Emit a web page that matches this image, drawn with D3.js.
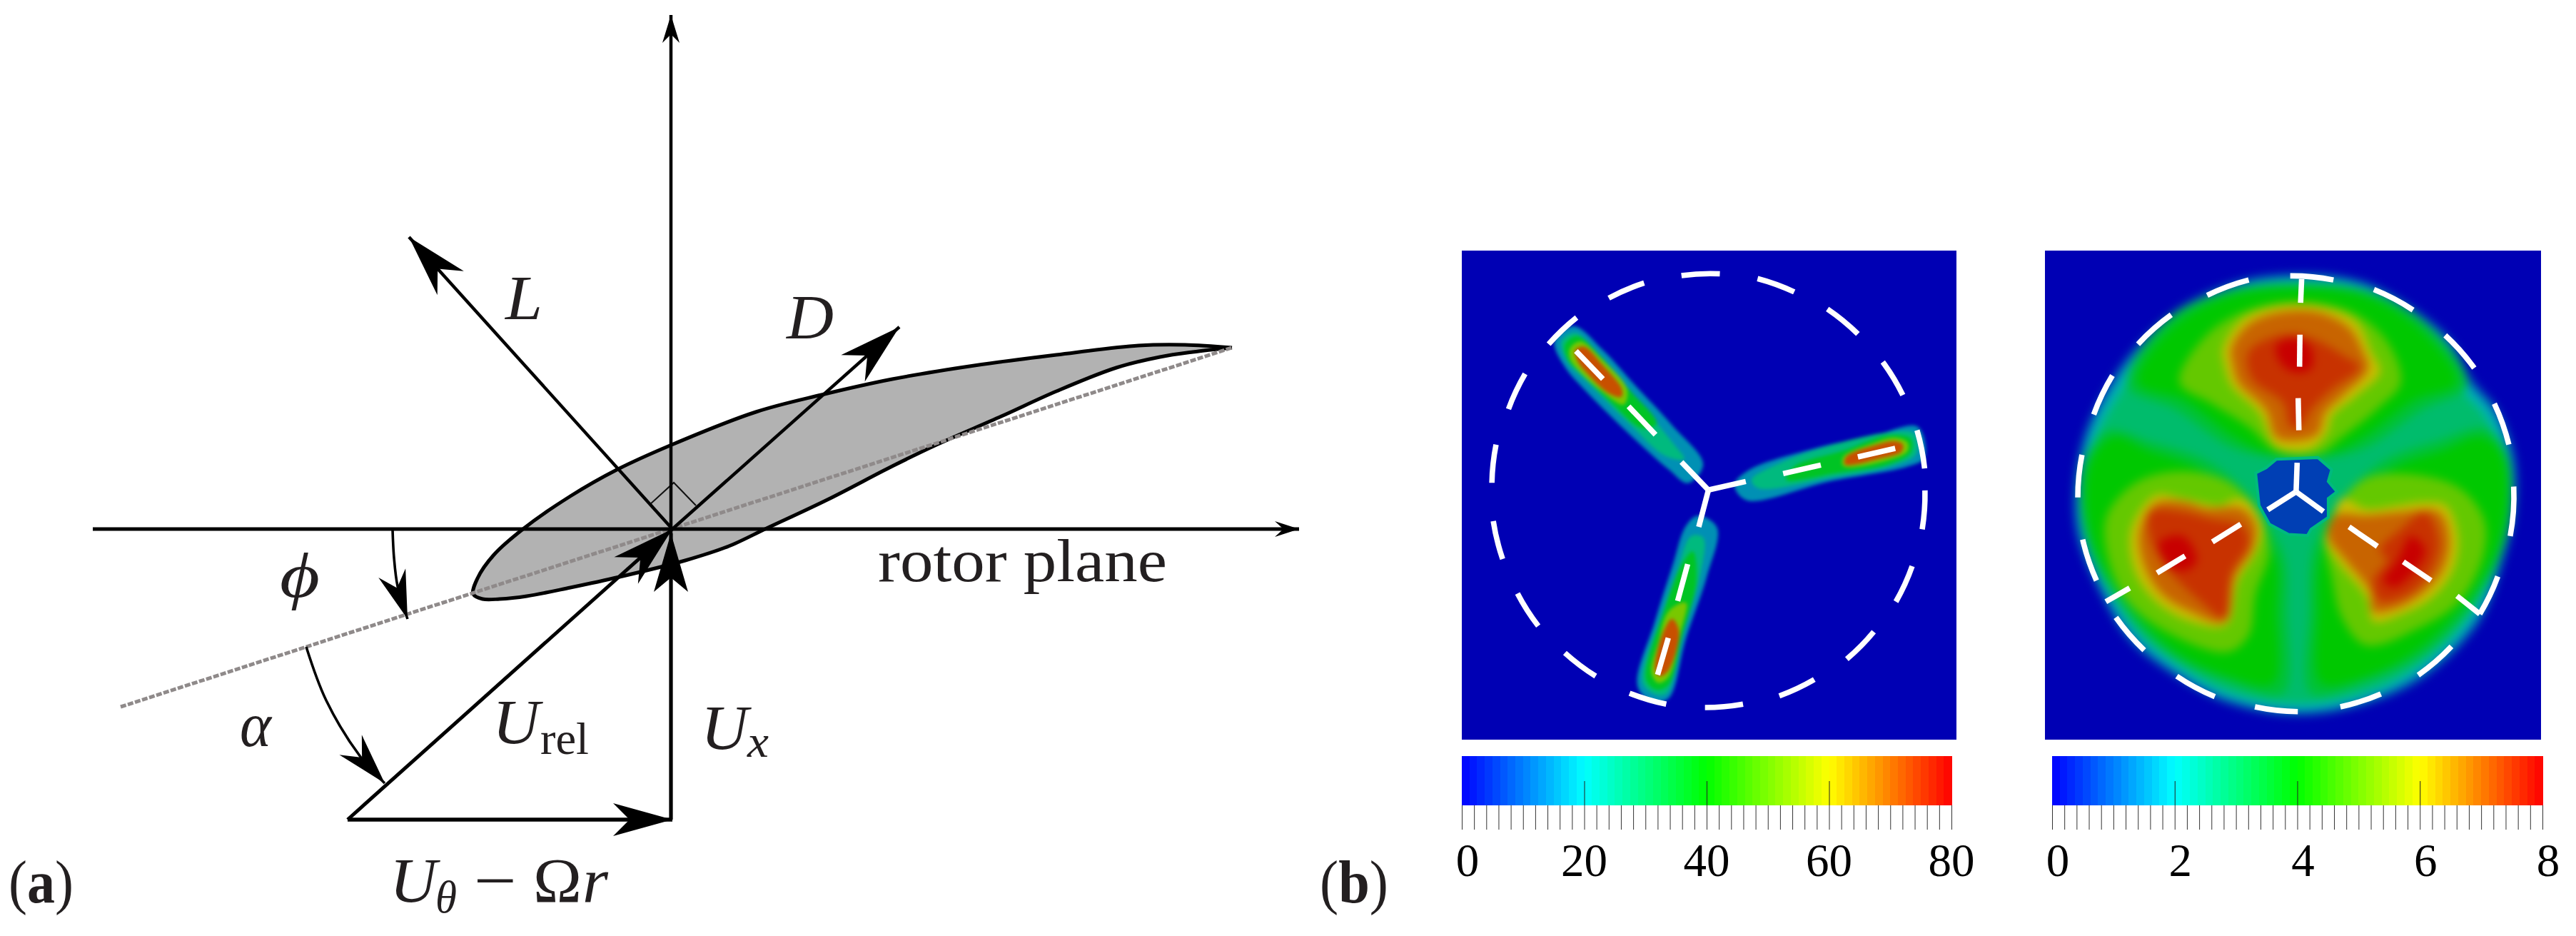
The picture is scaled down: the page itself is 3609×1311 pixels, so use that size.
<!DOCTYPE html>
<html>
<head>
<meta charset="utf-8">
<script src="https://cdn.jsdelivr.net/npm/d3@7"></script>
<style>
  html, body { margin: 0; padding: 0; background: #fff; overflow: hidden; }
  text { font-family: "Liberation Serif", serif; fill: #231f20; }
</style>
</head>
<body>
<div id="chart"></div>
<script>
// ---- panel (a): geometry in diagram units, origin at the blade section, y up
var airfoil = [[784,254],[718,258],[653,257],[538,244],[423,229],[308,210],[209,188],[117,164],[-1,118],[-78,83],
  [-143,46],[-208,1],[-250,-36],[-273,-69],[-279,-91],[-266,-98],[-242,-98],[-204,-94],[-143,-82],[-74,-67],
  [18,-44],[79,-24],[132,1],[217,41],[308,88],[370,118],[461,158],[538,193],[622,226],[683,241],[729,248],[784,254]];
var chordLine = [[-773,-249],[784,254]];
var rightAngle = [[-32,34],[2,65],[33,33]];
var planeAxis = [[-812,0],[878,0]];
var normalAxis = [[-2,-407],[-2,720]];
var liftVector = [[0,0],[-369,409]];
var dragVector = [[0,0],[318,283]];
var relVector = [[-455,-407],[0,0]];
var axialVector = [[-2,-407],[-2,-6]];
var tangentialVector = [[-455,-407],[0,-407]];
var phiArc = [[-392,-1],[-390,-40],[-385,-80],[-371,-126]];
var phiArcHeadFrom = [-393,-61];
var alphaArc = [[-513,-165],[-485,-240],[-437,-319],[-403,-356]];
var alphaArcHeadFrom = [-451,-302];

// ---- panel (b): everything below is in plot units
var leftLevels = [16, 26, 36, 52, 72];
var bladeA = [
  [[305,310],[360,265],[445,335],[535,435],[645,555],[735,670],[690,725],[635,685],[525,585],[395,455],[335,385]],
  [[325,310],[365,285],[435,350],[525,455],[645,605],[680,655],[625,645],[515,545],[395,425],[345,375]],
  [[335,320],[370,295],[435,350],[515,445],[600,550],[560,565],[465,485],[385,405],[345,365]],
  [[350,330],[380,310],[445,365],[515,450],[505,495],[440,455],[375,395],[350,360]],
  [[365,335],[390,325],[445,380],[500,450],[498,472],[462,462],[405,410],[370,365]]];
var bladeB = [
  [[1355,560],[1375,650],[1330,675],[1100,720],[860,775],[825,730],[870,685],[1050,625],[1230,585]],
  [[1345,580],[1350,640],[1280,675],[1100,710],[895,740],[875,715],[960,665],[1100,615],[1280,575]],
  [[1335,595],[1335,635],[1270,670],[1120,695],[975,715],[1000,675],[1140,630],[1270,585]],
  [[1325,605],[1325,632],[1260,660],[1140,675],[1140,648],[1220,610],[1290,592]],
  [[1312,612],[1308,633],[1250,652],[1145,670],[1148,648],[1225,616],[1290,602]]];
var bladeC = [
  [[545,1320],[590,1365],[635,1355],[685,1180],[745,1000],[775,855],[720,820],[685,850],[645,970],[595,1130]],
  [[560,1310],[600,1345],[630,1340],[675,1170],[725,1000],[735,885],[700,880],[660,980],[615,1110]],
  [[570,1300],[600,1330],[635,1315],[675,1170],[715,1010],[705,925],[675,960],[625,1090]],
  [[585,1280],[605,1310],[635,1292],[670,1160],[685,1075],[635,1100],[605,1190]],
  [[596,1272],[610,1290],[635,1272],[665,1160],[645,1122],[620,1160]]];

var rimLevels = [1.2, 2, 2.8];
var diskRims = [
  [[760,112],[900,122],[1010,160],[1200,300],[1265,420],[1340,510],[1390,650],[1392,800],[1355,960],[1285,1135],[1125,1295],[950,1375],[760,1405],[560,1370],[400,1285],[275,1185],[190,1045],[125,885],[115,750],[145,580],[225,420],[295,325],[430,205],[600,130]],
  [[760,125],[900,135],[1005,172],[1190,312],[1250,430],[1325,520],[1375,655],[1378,800],[1342,955],[1272,1125],[1115,1280],[945,1360],[760,1390],[565,1355],[408,1272],[288,1172],[202,1038],[140,880],[130,750],[160,585],[238,430],[308,335],[438,218],[605,145]],
  [[760,142],[895,152],[1000,190],[1175,325],[1235,450],[1305,535],[1355,665],[1358,800],[1325,950],[1258,1110],[1105,1262],[940,1342],[760,1370],[570,1338],[418,1256],[300,1158],[218,1028],[160,875],[150,750],[178,595],[255,450],[322,350],[448,235],[610,162]]];

var lobeLevels = [3.4, 4, 5, 6.1, 7, 7.5, 8];
var lobeTop = [
  [[270,440],[380,250],[550,165],[760,140],[970,165],[1140,265],[1250,440],[1120,510],[960,620],[850,650],[690,650],[570,620],[410,510]],
  [[300,430],[400,270],[560,180],[760,155],[960,180],[1120,280],[1220,430],[1100,480],[950,590],[840,640],[690,640],[580,590],[430,480]],
  [[420,430],[490,300],[600,225],[760,195],[920,225],[1020,310],[1060,430],[1000,500],[890,590],[820,640],[700,630],[620,560],[510,490]],
  [[545,330],[600,245],[700,205],[820,205],[930,250],[975,340],[1000,400],[930,470],[860,530],[850,570],[800,625],[700,620],[650,520],[570,440],[550,380]],
  [[570,330],[620,260],[710,225],[820,225],[910,270],[950,340],[965,390],[890,470],[840,520],[820,580],[760,600],[700,590],[670,510],[590,430],[575,380]],
  [[620,340],[720,290],[800,300],[900,355],[940,385],[860,450],[800,510],[770,560],[740,560],[720,490],[630,420]],
  [[700,320],[760,300],[800,330],[800,390],[750,400],[710,370]]];
var lobeLeft = [
  [[150,650],[135,780],[165,930],[250,1080],[390,1225],[555,1305],[720,1340],[730,1100],[725,950],[690,870],[620,760],[500,660],[340,605],[215,570]],
  [[165,660],[150,780],[180,920],[260,1060],[400,1210],[560,1290],[690,1310],[700,1100],[700,960],[660,880],[580,760],[470,680],[330,630],[230,590]],
  [[210,820],[210,930],[270,1070],[400,1170],[560,1220],[620,1170],[640,1050],[680,920],[640,800],[560,720],[430,690],[300,720]],
  [[350,760],[280,860],[290,980],[350,1070],[450,1130],[555,1140],[590,1010],[640,930],[660,850],[620,780],[580,770],[540,790],[430,770]],
  [[350,785],[305,870],[320,970],[370,1050],[450,1100],[550,1130],[580,1000],[630,920],[640,850],[600,800],[500,800],[430,780]],
  [[335,810],[335,880],[390,980],[480,1070],[550,1120],[570,990],[620,900],[600,850],[510,830],[430,810]],
  [[360,900],[430,880],[470,950],[440,980],[390,970]]];
var lobeRight = [
  [[1365,640],[1380,780],[1350,930],[1265,1085],[1125,1225],[965,1305],[800,1340],[795,1100],[800,950],[825,870],[900,760],[1010,660],[1170,600],[1305,565]],
  [[1350,640],[1365,780],[1335,920],[1250,1070],[1110,1210],[960,1290],[830,1310],[820,1100],[825,960],[850,880],[940,760],[1040,680],[1180,630],[1290,590]],
  [[1300,830],[1300,930],[1230,1070],[1110,1150],[960,1200],[890,1120],[860,1000],[840,880],[880,790],[960,710],[1100,700],[1230,740]],
  [[1190,790],[1225,880],[1210,980],[1150,1060],[1060,1110],[980,1130],[960,1060],[880,960],[840,890],[860,840],[890,770],[960,800],[1050,790],[1130,780]],
  [[1170,810],[1200,890],[1180,980],[1130,1040],[1050,1090],[980,1100],[970,1040],[900,950],[850,880],[870,820],[960,820],[1060,810]],
  [[1130,810],[1170,900],[1140,990],[1080,1050],[1000,1070],[980,1010],[1020,950],[1000,920],[1060,860]],
  [[1090,880],[1130,920],[1100,980],[1040,1030],[1010,1010],[1050,950]]];
var hubLevel = 0.7;
var hubRing = [[700,655],[820,650],[860,685],[850,720],[875,750],[850,770],[850,825],[800,860],[790,878],[735,875],[680,845],[650,790],[640,695],[670,680]];

var leftDashes = [[[672,117],[783,112]],[[892,126],[998,165]],[[1094,215],[1182,288]],[[1254,370],[1312,467]],[[1353,570],[1375,682]],
  [[1376,746],[1368,860]],[[1339,968],[1292,1072]],[[1228,1160],[1150,1240]],[[1056,1300],[955,1348]],[[850,1372],[740,1382]],
  [[628,1372],[522,1340]],[[424,1290],[335,1222]],[[258,1143],[198,1048]],[[155,947],[128,836]],[[124,724],[136,612]],
  [[172,508],[220,405]],[[288,318],[369,240]],[[462,183],[564,139]]];
var leftSpokes = [[[750,745],[672,663]],[[597,583],[519,500]],[[445,420],[367,338]],
  [[750,745],[858,720]],[[966,697],[1075,672]],[[1182,648],[1290,623]],
  [[750,745],[722,853]],[[690,962],[661,1070]],[[634,1178],[603,1286]]];
var rightDashes = [[[740,118],[865,130]],[[982,158],[1095,218]],[[1188,292],[1272,388]],[[1330,492],[1372,612]],
  [[1386,735],[1376,880]],[[1340,998],[1288,1108]],[[1206,1203],[1110,1287]],[[1002,1342],[885,1380]],
  [[762,1394],[638,1380]],[[522,1350],[412,1290]],[[318,1214],[236,1118]],[[180,1010],[140,890]],
  [[126,767],[138,642]],[[172,524],[226,410]],[[300,318],[396,232]],[[500,175],[620,130]]];
var rightSpokes = [[[757,750],[760,665]],[[765,570],[763,476]],[[767,384],[768,290]],[[770,197],[773,127]],
  [[757,750],[675,803]],[[597,845],[515,897]],[[436,938],[355,988]],[[276,1032],[207,1072]],
  [[757,750],[836,808]],[[910,853],[992,910]],[[1067,955],[1147,1010]],[[1222,1055],[1288,1108]]];

// colour bars
var leftTicks = [0, 20, 40, 60, 80];
var rightTicks = [0, 2, 4, 6, 8];
var jetColors = ["#0000ff", "#00ffff", "#00ff00", "#ffff00", "#ff0000"];
var shadedColors = ["#0000b4", "#00b4b4", "#00c800", "#c8c800", "#c80000"];

var svg = d3.select("#chart").append("svg")
  .attr("width", 3609)
  .attr("height", 1311)
  .style("display", "block");

var defs = svg.append("defs");

// ---- panel (a)
var xA = d3.scaleLinear().domain([0, 1]).range([942, 943]);
var yA = d3.scaleLinear().domain([0, 1]).range([741, 740]);
var lineA = d3.line().x(d => xA(d[0])).y(d => yA(d[1]));

var panelA = svg.append("g");

panelA.append("path")
  .attr("d", lineA.curve(d3.curveCatmullRom.alpha(0.5))(airfoil))
  .attr("fill", "#b2b2b2")
  .attr("stroke", "#000")
  .attr("stroke-width", 5)
  .attr("stroke-linejoin", "round");
lineA.curve(d3.curveLinear);

panelA.append("path")
  .attr("d", lineA(chordLine))
  .attr("stroke", "#8f8a8a")
  .attr("stroke-width", 5)
  .attr("stroke-dasharray", "8,2.5")
  .attr("fill", "none");

panelA.append("path")
  .attr("d", lineA(rightAngle))
  .attr("stroke", "#111")
  .attr("stroke-width", 2)
  .attr("fill", "none");

function drawHead(from, tip, len, halfWidth, notch) {
  var dx = xA(tip[0]) - xA(from[0]), dy = yA(tip[1]) - yA(from[1]);
  var n = Math.sqrt(dx * dx + dy * dy);
  var ux = dx / n, uy = dy / n;
  var tx = xA(tip[0]), ty = yA(tip[1]);
  var pts = [
    [tx, ty],
    [tx - ux * len - uy * halfWidth, ty - uy * len + ux * halfWidth],
    [tx - ux * notch, ty - uy * notch],
    [tx - ux * len + uy * halfWidth, ty - uy * len - ux * halfWidth]
  ];
  panelA.append("polygon")
    .attr("points", pts.map(p => p.join(",")).join(" "))
    .attr("fill", "#000");
}

function drawVector(v, width, len, halfWidth, notch) {
  panelA.append("path")
    .attr("d", lineA(v))
    .attr("stroke", "#000")
    .attr("stroke-width", width)
    .attr("fill", "none");
  drawHead(v[0], v[1], len, halfWidth, notch);
}

drawVector(planeAxis, 5, 34, 11, 22);
drawVector(normalAxis, 4.5, 39, 12, 27);
drawVector(liftVector, 4.5, 87, 25, 60);
drawVector(dragVector, 4.5, 87, 25, 60);
drawVector(relVector, 5, 87, 25, 60);
drawVector(axialVector, 5, 82, 24, 62);
drawVector(tangentialVector, 5.5, 83, 23, 60);

var arcLine = d3.line().x(d => xA(d[0])).y(d => yA(d[1])).curve(d3.curveCatmullRom);
[phiArc, alphaArc].forEach(function(a) {
  panelA.append("path")
    .attr("d", arcLine(a))
    .attr("stroke", "#000")
    .attr("stroke-width", 3.6)
    .attr("fill", "none");
});
drawHead(phiArcHeadFrom, phiArc[3], 68, 20, 46);
drawHead(alphaArcHeadFrom, alphaArc[3], 72, 21, 48);

function label(x, y, size, width) {
  var t = svg.append("text").attr("x", x).attr("y", y).attr("font-size", size);
  if (width) t.attr("textLength", width).attr("lengthAdjust", "spacingAndGlyphs");
  return t;
}

label(1230, 814, 85, 405).text("rotor plane");
label(708, 447, 88, 52).attr("font-style", "italic").text("L");
label(1102, 474, 88, 66).attr("font-style", "italic").text("D");
label(392, 836, 88, 56).attr("font-style", "italic").text("ϕ");
label(336, 1045, 88, 44).attr("font-style", "italic").text("α");
label(690, 1041, 88, 66).attr("font-style", "italic").text("U");
label(757, 1056, 64, 68).text("rel");
label(982, 1049, 88, 66).attr("font-style", "italic").text("U");
label(1047, 1060, 64, 30).attr("font-style", "italic").text("x");
label(546, 1263, 88, 66).attr("font-style", "italic").text("U");
label(610, 1278, 64, 30).attr("font-style", "italic").text("θ");
label(664, 1263, 88, 60).text("−");
label(747, 1263, 88, 68).text("Ω");
label(816, 1263, 88, 36).attr("font-style", "italic").text("r");

var aLabel = label(12, 1264, 84, 91);
aLabel.append("tspan").text("(");
aLabel.append("tspan").attr("font-weight", "bold").text("a");
aLabel.append("tspan").text(")");
var bLabel = label(1849, 1264, 84, 96);
bLabel.append("tspan").text("(");
bLabel.append("tspan").attr("font-weight", "bold").text("b");
bLabel.append("tspan").text(")");

// ---- panel (b)
function drawField(id, xDomain, xRange, maxValue, layers, hub, dashes, spokes, blur) {
  var x = d3.scaleLinear().domain(xDomain).range(xRange);
  var y = d3.scaleLinear().domain([44, 1476]).range([351, 1036]);
  var color = d3.scaleLinear().domain([0, .25, .5, .75, 1].map(d => d * maxValue)).range(shadedColors);
  var ring = d3.line().x(d => x(d[0])).y(d => y(d[1])).curve(d3.curveCatmullRomClosed.alpha(0.5));

  defs.append("clipPath").attr("id", id + "-clip")
    .append("rect")
    .attr("x", xRange[0]).attr("y", 351)
    .attr("width", xRange[1] - xRange[0]).attr("height", 685);
  defs.append("filter").attr("id", id + "-blur")
    .attr("filterUnits", "userSpaceOnUse")
    .attr("x", xRange[0]).attr("y", 351)
    .attr("width", xRange[1] - xRange[0]).attr("height", 685)
    .attr("color-interpolation-filters", "sRGB")
    .append("feGaussianBlur").attr("stdDeviation", blur);

  var g = svg.append("g").attr("clip-path", "url(#" + id + "-clip)");
  g.append("rect")
    .attr("x", xRange[0]).attr("y", 351)
    .attr("width", xRange[1] - xRange[0]).attr("height", 685)
    .attr("fill", color(0));

  g.append("g").attr("filter", "url(#" + id + "-blur)")
    .selectAll("path")
    .data(layers)
    .enter()
    .append("path")
    .attr("d", d => ring(d.ring))
    .attr("fill", d => color(d.level));

  if (hub) {
    g.append("path")
      .attr("d", d3.line().x(d => x(d[0])).y(d => y(d[1])).curve(d3.curveLinearClosed)(hub))
      .attr("fill", color(hubLevel))
      .attr("stroke", color(2.6))
      .attr("stroke-width", 4);
  }

  g.selectAll(".dash")
    .data(dashes)
    .enter()
    .append("path")
    .attr("class", "dash")
    .attr("d", d => "M" + x(d[0][0]) + "," + y(d[0][1]) + "A304,304 0 0 1 " + x(d[1][0]) + "," + y(d[1][1]))
    .attr("fill", "none")
    .attr("stroke", "#fff")
    .attr("stroke-width", 7.6);

  g.selectAll(".spoke")
    .data(spokes)
    .enter()
    .append("line")
    .attr("class", "spoke")
    .attr("x1", d => x(d[0][0])).attr("y1", d => y(d[0][1]))
    .attr("x2", d => x(d[1][0])).attr("y2", d => y(d[1][1]))
    .attr("stroke", "#fff")
    .attr("stroke-width", 7.6);
}

function stack(levels, groups) {
  var out = [];
  levels.forEach(function(level, i) {
    groups.forEach(function(group) {
      out.push({ level: level, ring: group[i] });
    });
  });
  return out;
}

drawField("thrust", [37, 1467], [2048, 2741], 80, stack(leftLevels, [bladeA, bladeB, bladeC]), null, leftDashes, leftSpokes, 2.5);
drawField("wake", [31, 1465], [2865, 3560], 8,
  stack(rimLevels, [diskRims]).concat(stack(lobeLevels, [lobeTop, lobeLeft, lobeRight])),
  hubRing, rightDashes, rightSpokes, 6.5);

function drawBar(x0, x1, ticks) {
  var maxValue = ticks[ticks.length - 1];
  var x = d3.scaleLinear().domain([0, maxValue]).range([x0, x1]);
  var color = d3.scaleLinear().domain([0, .25, .5, .75, 1].map(d => d * maxValue)).range(jetColors);
  var bands = d3.range(64);
  var step = maxValue / 64;

  svg.append("g").selectAll("rect")
    .data(bands)
    .enter()
    .append("rect")
    .attr("x", d => x(d * step))
    .attr("y", 1059)
    .attr("width", x(step) - x(0) + 0.5)
    .attr("height", 69)
    .attr("fill", d => color((d + 0.5) * step))
    .attr("shape-rendering", "crispEdges");

  // minor ticks under the bar
  var minor = d3.range(41).map(i => i * maxValue / 40);
  var minorAxis = svg.append("g")
    .attr("transform", "translate(0,1128)")
    .call(d3.axisBottom(x).tickValues(minor).tickSize(34).tickFormat(""));
  minorAxis.select(".domain").remove();
  minorAxis.selectAll("line").attr("stroke", "#333").attr("stroke-width", 1);

  // major ticks run up into the bar, then the labels
  var majorAxis = svg.append("g")
    .attr("transform", "translate(0,1128)")
    .call(d3.axisTop(x).tickValues(ticks.slice(1, 4)).tickSize(34).tickFormat(""));
  majorAxis.select(".domain").remove();
  majorAxis.selectAll("line").attr("stroke", "#222").attr("stroke-width", 1);

  svg.append("g").selectAll("text")
    .data(ticks)
    .enter()
    .append("text")
    .attr("x", d => x(d) + (String(d).length == 1 ? 8 : 0))
    .attr("y", 1227)
    .attr("text-anchor", "middle")
    .attr("font-size", 65)
    .style("fill", "#000")
    .text(d => d);
}

drawBar(2048, 2734, leftTicks);
drawBar(2875, 3562, rightTicks);
</script>
</body>
</html>
